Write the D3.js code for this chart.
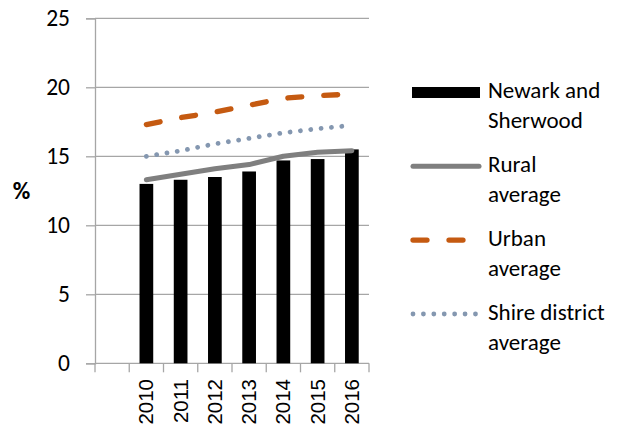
<!DOCTYPE html>
<html>
<head>
<meta charset="utf-8">
<script src="https://cdn.jsdelivr.net/npm/d3@7"></script>
<style>
  html, body { margin: 0; padding: 0; background: #fff; }
  svg { display: block; }
</style>
</head>
<body>
<svg id="chart" width="625" height="433"></svg>
<script>
// Share of population (%) by year
const years = ["2010", "2011", "2012", "2013", "2014", "2015", "2016"];
const newark = [13.0, 13.3, 13.5, 13.9, 14.7, 14.8, 15.5];
const rural = [13.3, 13.7, 14.1, 14.4, 15.0, 15.3, 15.4];
const urban = [17.3, 17.8, 18.2, 18.7, 19.2, 19.4, 19.5];
const shire = [15.0, 15.4, 15.9, 16.3, 16.7, 17.0, 17.25];
const yTicks = [0, 5, 10, 15, 20, 25];

const labelFont = "Calibri, Carlito, Lato, sans-serif";
const gridColor = "#a6a6a6";

const svg = d3.select("#chart");
const plot = { left: 95, right: 369, top: 18.3, bottom: 363.3 };

// Category axis has an empty leading slot before the first year
const x = d3.scaleBand()
  .domain([""].concat(years))
  .range([plot.left, plot.right])
  .padding(0);

const y = d3.scaleLinear()
  .domain([0, 25])
  .range([plot.bottom, plot.top]);

// Horizontal gridlines and left ticks
const yAxis = d3.axisLeft(y)
  .tickValues(yTicks)
  .tickSize(9)
  .tickPadding(16)
  .tickFormat(d3.format("d"));

const gy = svg.append("g")
  .attr("transform", `translate(${plot.left},0)`)
  .call(yAxis);
gy.select(".domain").attr("stroke", gridColor).attr("stroke-width", 1.3);
gy.selectAll(".tick line").attr("stroke", gridColor).attr("stroke-width", 1.3);
gy.selectAll(".tick text")
  .attr("font-family", labelFont)
  .attr("font-size", 23.5)
  .attr("fill", "#000");

svg.append("g")
  .selectAll("line")
  .data(yTicks)
  .join("line")
  .attr("x1", plot.left)
  .attr("x2", plot.right)
  .attr("y1", d => y(d))
  .attr("y2", d => y(d))
  .attr("stroke", gridColor)
  .attr("stroke-width", 1.3);

// Category ticks hang below the baseline at every slot boundary
const boundaries = x.domain().map(d => x(d)).concat([plot.right]);
svg.append("g")
  .selectAll("line")
  .data(boundaries)
  .join("line")
  .attr("x1", d => d)
  .attr("x2", d => d)
  .attr("y1", y(0))
  .attr("y2", y(0) + 9)
  .attr("stroke", gridColor)
  .attr("stroke-width", 1.3);

// Rotated year labels
svg.append("g")
  .selectAll("text")
  .data(years)
  .join("text")
  .attr("transform", d => `translate(${x(d) + x.bandwidth() / 2 + 7},379) rotate(-90)`)
  .attr("text-anchor", "end")
  .attr("font-family", "'Liberation Sans', Arial, sans-serif")
  .attr("font-size", 20.5)
  .attr("fill", "#000")
  .text(d => d);

// Axis title
svg.append("text")
  .attr("x", 21.5)
  .attr("y", (plot.top + plot.bottom) / 2)
  .attr("dy", "0.35em")
  .attr("text-anchor", "middle")
  .attr("font-family", labelFont)
  .attr("font-weight", "bold")
  .attr("font-size", 24)
  .text("%");

// Bars
const barW = x.bandwidth() * 0.4;
svg.append("g")
  .selectAll("rect")
  .data(years)
  .join("rect")
  .attr("x", d => x(d) + (x.bandwidth() - barW) / 2)
  .attr("y", (d, i) => y(newark[i]))
  .attr("width", barW)
  .attr("height", (d, i) => y(0) - y(newark[i]))
  .attr("fill", "#000");

// Comparison lines
const cx = d => x(d) + x.bandwidth() / 2;
const series = [
  { values: rural, color: "#7f7f7f", width: 5, dash: null },
  { values: urban, color: "#c55a11", width: 5.3, dash: "14,22" },
  { values: shire, color: "#8497b0", width: 4.8, dash: "0.01,10.4" }
];
const line = d3.line().x(d => cx(d[0])).y(d => y(d[1]));

svg.append("g")
  .selectAll("path")
  .data(series)
  .join("path")
  .attr("d", s => line(years.map((yr, i) => [yr, s.values[i]])))
  .attr("fill", "none")
  .attr("stroke", s => s.color)
  .attr("stroke-width", s => s.width)
  .attr("stroke-linecap", "round")
  .attr("stroke-linejoin", "round")
  .attr("stroke-dasharray", s => s.dash);

// Legend
const legendItems = [
  { lines: ["Newark and", "Sherwood"], kind: "bar" },
  { lines: ["Rural", "average"], kind: "line", s: series[0] },
  { lines: ["Urban", "average"], kind: "line", s: series[1] },
  { lines: ["Shire district", "average"], kind: "line", s: series[2] }
];
const legend = svg.append("g");
legendItems.forEach((item, i) => {
  const base = 98.3 + i * 73.9;
  const g = legend.append("g");
  if (item.kind === "bar") {
    g.append("rect")
      .attr("x", 412).attr("y", base - 11.3)
      .attr("width", 68).attr("height", 11)
      .attr("fill", "#000");
  } else {
    g.append("line")
      .attr("x1", 413).attr("x2", 479)
      .attr("y1", base - 6).attr("y2", base - 6)
      .attr("stroke", item.s.color)
      .attr("stroke-width", item.s.width)
      .attr("stroke-linecap", "round")
      .attr("stroke-dasharray", item.s.dash);
  }
  item.lines.forEach((t, j) => {
    g.append("text")
      .attr("x", 488)
      .attr("y", base + j * 30)
      .attr("font-family", labelFont)
      .attr("font-size", 23)
      .attr("fill", "#000")
      .text(t);
  });
});
</script>
</body>
</html>
